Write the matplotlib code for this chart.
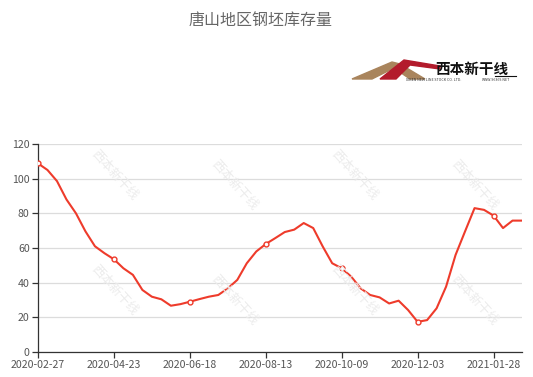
import numpy as np
import matplotlib
matplotlib.use("Agg")
import matplotlib.pyplot as plt
from matplotlib.patches import Polygon

plt.rcParams['font.family'] = ['Noto Sans CJK SC', 'DejaVu Sans']

title = "唐山地区钢坯库存量"
# weekly billet inventory (10k t)
values = [108.8, 105.0, 98.6, 88.0, 80.0, 69.6, 61.0, 57.0, 53.5, 48.3,
          44.5, 35.8, 31.9, 30.4, 26.7, 27.6, 29.0, 30.5, 31.9, 32.9,
          36.7, 41.6, 51.2, 58.0, 62.3, 65.7, 69.2, 70.6, 74.4, 71.5,
          60.9, 51.2, 48.3, 43.5, 36.7, 32.9, 31.5, 28.0, 29.6, 24.2,
          17.4, 18.4, 25.2, 37.7, 56.0, 69.6, 83.0, 82.0, 78.7, 71.5,
          75.8, 75.8]
tick_labels = ["2020-02-27", "2020-04-23", "2020-06-18", "2020-08-13",
               "2020-10-09", "2020-12-03", "2021-01-28"]
tick_step = 8

W, H = 533, 377
fig = plt.figure(figsize=(W / 100, H / 100), dpi=100)
ax = fig.add_axes([38 / W, 1 - 352 / H, (522 - 38) / W, (352 - 144) / H])

x = np.arange(len(values))
line_color = '#ee3b2b'
ax.plot(x, values, color=line_color, lw=1.5, zorder=3, solid_joinstyle='round')
mk = x[::tick_step]
ax.plot(mk, np.array(values)[mk], ls='none', marker='o', ms=3.5,
        mfc='white', mec=line_color, mew=1, zorder=4)

ax.set_xlim(0, len(values) - 1)
ax.set_ylim(0, 120)
ax.set_yticks(range(0, 121, 20))
ax.set_xticks(x[::tick_step])
ax.set_xticklabels(tick_labels)
ax.grid(axis='y', color='#dcdcdc', lw=0.9)
ax.set_axisbelow(True)
for s in ['top', 'right']:
    ax.spines[s].set_visible(False)
for s in ['left', 'bottom']:
    ax.spines[s].set_color('#333333')
    ax.spines[s].set_linewidth(0.9)
ax.tick_params(axis='both', colors='#333333', labelcolor='#555555',
               labelsize=7.6, length=4, width=0.9, pad=2)

# watermarks
for wx, wy in [(115, 175), (235, 185), (355, 175), (475, 185),
               (115, 290), (235, 300), (355, 290), (475, 300)]:
    fig.text(wx / W, 1 - wy / H, "西本新干线", fontsize=9, color='#ececec',
             rotation=-48, ha='center', va='center', zorder=0)

fig.text(261 / W, 1 - 20 / H, title, fontsize=11.5, color='#666666',
         ha='center', va='center')

# logo
def px(pts):
    return [(a / W, 1 - b / H) for a, b in pts]

fig.patches.append(Polygon(px([(352, 79), (392, 62), (400, 64), (425, 79), (410, 79), (394, 68), (372, 79)]),
                           closed=True, color='#a9845c', transform=fig.transFigure, figure=fig))
fig.patches.append(Polygon(px([(380, 79), (404, 60), (440, 66), (440, 69), (410, 65), (396, 79)]),
                           closed=True, color='#b31b2c', transform=fig.transFigure, figure=fig))
fig.text(472 / W, 1 - 69 / H, "西本新干线", fontsize=10.5, fontweight='bold',
         color='#111111', ha='center', va='center')
fig.add_artist(plt.Line2D([495 / W, 516 / W], [1 - 76 / H, 1 - 76 / H],
                          color='#111111', lw=0.8, transform=fig.transFigure))
fig.text(434 / W, 1 - 80 / H, "XIBEN NEW LINE STOCK CO. LTD.", fontsize=2.6,
         color='#333333', ha='center', va='center')
fig.text(496 / W, 1 - 80 / H, "WWW.96369.NET", fontsize=2.6,
         color='#333333', ha='center', va='center')

fig.savefig('out.png', dpi=100)
